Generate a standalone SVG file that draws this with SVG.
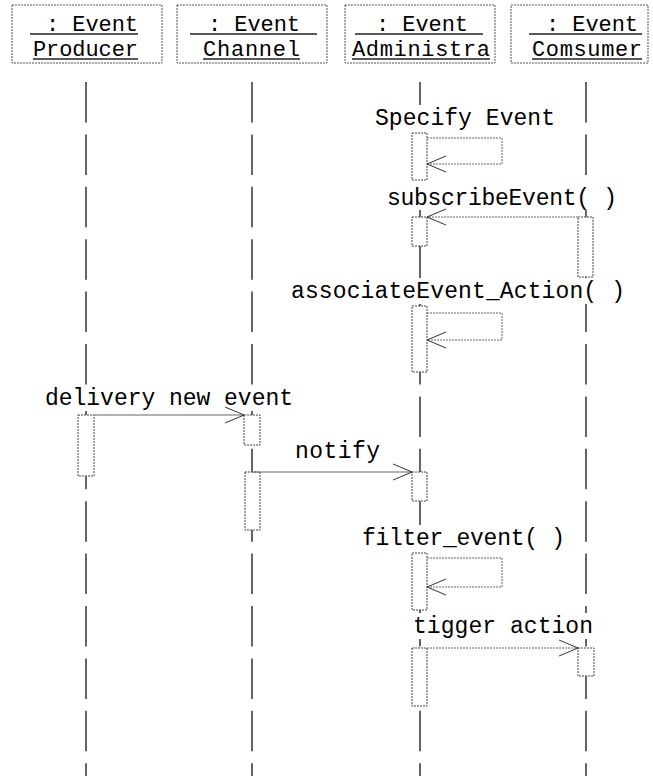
<svg xmlns="http://www.w3.org/2000/svg" width="653" height="776" viewBox="0 0 653 776">
<style>
text{font-family:"Liberation Mono","DejaVu Sans Mono",monospace;fill:#000}
.hd{font-size:22px}
.lb{font-size:23px}
.box{fill:#fff;stroke:#555;stroke-width:1;stroke-dasharray:2 1}
.ul{stroke:#222;stroke-width:1.5}
.life{stroke:#333;stroke-width:1.5;stroke-dasharray:40.5 11.9;fill:none}
.bar{fill:#fff;stroke:#444;stroke-width:1;stroke-dasharray:2 1}
.solid{stroke:#666;stroke-width:1;fill:none}
.dot{stroke:#666;stroke-width:1;stroke-dasharray:2 1;fill:none}
.bg{fill:#fff}
</style>
<defs>
<marker id="open" markerUnits="userSpaceOnUse" markerWidth="22" markerHeight="18" refX="20" refY="9" orient="auto">
<path d="M1,1 L20,9 L1,17" fill="none" stroke="#333" stroke-width="1"/>
</marker>
</defs>
<rect width="653" height="776" fill="#fff"/>

<g id="lifelines">
<line class="life" x1="86" y1="82" x2="86" y2="776"/>
<line class="life" x1="252" y1="82" x2="252" y2="776"/>
<line class="life" x1="420" y1="82" x2="420" y2="776"/>
<line class="life" x1="586" y1="82" x2="586" y2="776"/>
</g>

<g id="producer">
<rect class="box" x="12" y="5" width="150" height="58"/>
<text class="hd" x="46" y="31" textLength="92" lengthAdjust="spacing">: Event</text>
<text class="hd" x="33" y="56" textLength="105" lengthAdjust="spacing">Producer</text>
<line class="ul" x1="30" y1="34" x2="138" y2="34"/>
<line class="ul" x1="33" y1="59" x2="138" y2="59"/>
</g>
<g id="channel">
<rect class="box" x="177" y="5" width="150" height="58"/>
<text class="hd" x="208" y="31" textLength="92" lengthAdjust="spacing">: Event</text>
<text class="hd" x="203" y="56" textLength="97" lengthAdjust="spacing">Channel</text>
<line class="ul" x1="190" y1="34" x2="317" y2="34"/>
<line class="ul" x1="203" y1="59" x2="300" y2="59"/>
</g>
<g id="administra">
<rect class="box" x="345" y="5" width="150" height="58"/>
<text class="hd" x="376" y="31" textLength="92" lengthAdjust="spacing">: Event</text>
<text class="hd" x="352" y="56" textLength="138" lengthAdjust="spacing">Administra</text>
<line class="ul" x1="355" y1="34" x2="483" y2="34"/>
<line class="ul" x1="352" y1="59" x2="490" y2="59"/>
</g>
<g id="consumer">
<rect class="box" x="511" y="5" width="137" height="58"/>
<text class="hd" x="546" y="31" textLength="92" lengthAdjust="spacing">: Event</text>
<text class="hd" x="532" y="56" textLength="110" lengthAdjust="spacing">Comsumer</text>
<line class="ul" x1="529" y1="34" x2="642" y2="34"/>
<line class="ul" x1="532" y1="59" x2="642" y2="59"/>
</g>

<g id="activations">
<rect class="bar" x="412" y="133" width="15" height="47"/>
<rect class="bar" x="412" y="217" width="15" height="29"/>
<rect class="bar" x="578" y="217" width="15" height="60"/>
<rect class="bar" x="412" y="306" width="15" height="66"/>
<rect class="bar" x="78" y="415" width="16" height="61"/>
<rect class="bar" x="244" y="415" width="16" height="30"/>
<rect class="bar" x="245" y="472" width="15" height="58"/>
<rect class="bar" x="412" y="472" width="15" height="29"/>
<rect class="bar" x="412" y="553" width="15" height="57"/>
<rect class="bar" x="412" y="648" width="15" height="58"/>
<rect class="bar" x="578" y="648" width="16" height="28"/>
</g>

<g id="labels">
<rect class="bg" x="373" y="105" width="185" height="26"/>
<text class="lb" x="375" y="125" textLength="180" lengthAdjust="spacing">Specify Event</text>
<rect class="bg" x="385" y="185" width="234" height="25"/>
<text class="lb" x="387" y="205" textLength="230" lengthAdjust="spacing">subscribeEvent( )</text>
<rect class="bg" x="289" y="278" width="338" height="26"/>
<text class="lb" x="291" y="298" textLength="334" lengthAdjust="spacing">associateEvent_Action( )</text>
<rect class="bg" x="43" y="385" width="252" height="26"/>
<text class="lb" x="45" y="405" textLength="248" lengthAdjust="spacing">delivery new event</text>
<rect class="bg" x="293" y="438" width="89" height="26"/>
<text class="lb" x="295" y="458" textLength="85" lengthAdjust="spacing">notify</text>
<rect class="bg" x="360" y="525" width="207" height="26"/>
<text class="lb" x="362" y="545" textLength="203" lengthAdjust="spacing">filter_event( )</text>
<rect class="bg" x="411" y="613" width="184" height="26"/>
<text class="lb" x="413" y="633" textLength="180" lengthAdjust="spacing">tigger action</text>
</g>

<g id="connectors">
<path class="dot" d="M427,138 H502 V164 H427" marker-end="url(#open)"/>
<path class="dot" d="M578,217 H427" marker-end="url(#open)"/>
<path class="dot" d="M427,313 H502 V340 H427" marker-end="url(#open)"/>
<path class="solid" d="M94,415 H244" marker-end="url(#open)"/>
<path class="solid" d="M252,472 H412" marker-end="url(#open)"/>
<path class="dot" d="M427,558 H502 V587 H427" marker-end="url(#open)"/>
<path class="dot" d="M427,648 H578" marker-end="url(#open)"/>
</g>
</svg>
